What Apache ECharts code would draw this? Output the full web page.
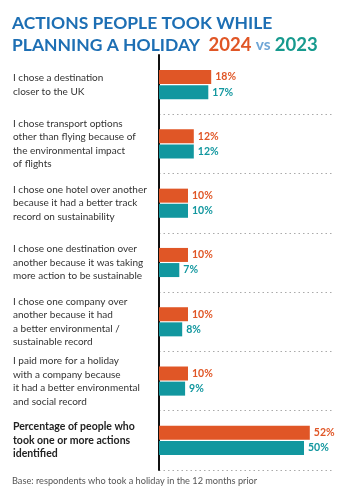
<!DOCTYPE html>
<html><head><meta charset="utf-8">
<script src="https://cdn.jsdelivr.net/npm/echarts@6/dist/echarts.min.js"></script>
<style>html,body{margin:0;padding:0;background:#fff}#c{width:343px;height:500px}</style>
</head><body><div id="c"></div>
<script>
const categories = [
  "I chose a destination\ncloser to the UK",
  "I chose transport options\nother than flying because of\nthe environmental impact\nof flights",
  "I chose one hotel over another\nbecause it had a better track\nrecord on sustainability",
  "I chose one destination over\nanother because it was taking\nmore action to be sustainable",
  "I chose one company over\nanother because it had\na better environmental /\nsustainable record",
  "I paid more for a holiday\nwith a company because\nit had a better environmental\nand social record",
  "Percentage of people who\ntook one or more actions\nidentified"
];
const values2024 = [18, 12, 10, 10, 10, 10, 52];
const values2023 = [17, 12, 10, 7, 8, 9, 50];
const seriesNames = ["2024", "2023"];

const ORANGE = "#E05626", TEAL = "#12979F";
const FONT = "Lato";
const chart = echarts.init(document.getElementById('c'), null, {renderer: 'canvas'});
chart.setOption({
  animation: false,
  backgroundColor: '#fff',
  textStyle: {fontFamily: FONT},
  title: [{
    left: 7, top: 8,
    text: "ACTIONS PEOPLE TOOK WHILE\nPLANNING A HOLIDAY  {o|2024} {v|vs} {t|2023}",
    textStyle: {
      fontFamily: FONT, fontWeight: 'bold', fontSize: 17.5, color: '#1D6FB4', lineHeight: 21.5,
      rich: {
        o: {fontFamily: FONT, fontWeight: 'bold', fontSize: 18.5, color: ORANGE, lineHeight: 21.5},
        v: {fontFamily: FONT, fontWeight: 'bold', fontSize: 15.5, color: '#6FA6D6', lineHeight: 21.5},
        t: {fontFamily: FONT, fontWeight: 'bold', fontSize: 18.5, color: '#179A8E', lineHeight: 21.5}
      }
    }
  }, {
    left: 7, top: 472,
    text: "Base: respondents who took a holiday in the 12 months prior",
    textStyle: {fontFamily: FONT, fontWeight: 'normal', fontSize: 9.2, color: '#555'}
  }],
  grid: {left: 159, right: 10, top: 55, bottom: 30, containLabel: false},
  xAxis: {
    type: 'value', min: 0, max: 60, show: false
  },
  yAxis: {
    type: 'category', inverse: true, data: categories,
    axisLine: {show: true, lineStyle: {color: '#111', width: 2}},
    axisTick: {show: false},
    splitLine: {show: true, interval: function (i) { return i > 0; },
      lineStyle: {type: [1.5, 3], color: '#aaa', width: 1}},
    axisLabel: {
      align: 'left', margin: 146, fontFamily: FONT, fontSize: 10, color: '#333', lineHeight: 13.5,
      formatter: function (v, i) { return i === categories.length - 1 ? '{b|' + v.split('\n').join('}\n{b|') + '}' : v; },
      rich: {b: {fontFamily: FONT, fontWeight: 'bold', fontSize: 10.5, color: '#222', lineHeight: 13.5}}
    }
  },
  series: [
    {name: seriesNames[0], type: 'bar', data: values2024, barWidth: 14, barGap: '8%',
      itemStyle: {color: ORANGE},
      label: {show: true, position: 'right', distance: 4, formatter: '{c}%', color: ORANGE,
        fontFamily: FONT, fontWeight: 'bold', fontSize: 10.5}},
    {name: seriesNames[1], type: 'bar', data: values2023, barWidth: 14,
      itemStyle: {color: TEAL},
      label: {show: true, position: 'right', distance: 4, formatter: '{c}%', color: TEAL,
        fontFamily: FONT, fontWeight: 'bold', fontSize: 10.5}}
  ]
});
</script></body></html>
